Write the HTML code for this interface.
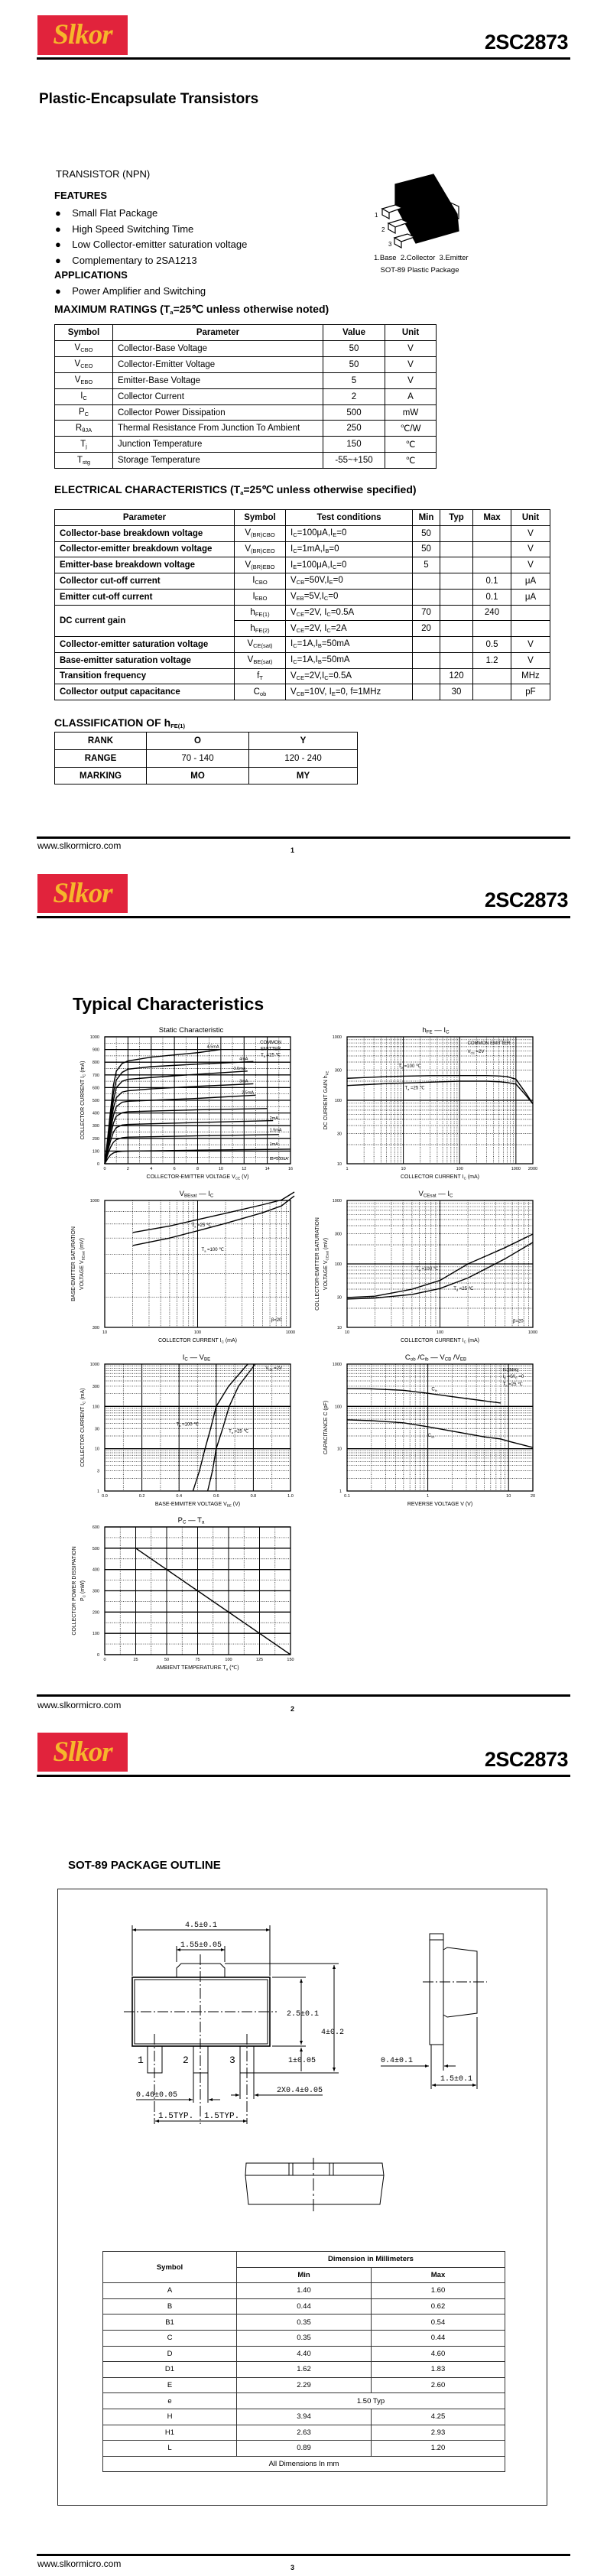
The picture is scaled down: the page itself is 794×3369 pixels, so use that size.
<!DOCTYPE html>
<html><head><meta charset="utf-8">
<style>
html,body{margin:0;padding:0;background:#fff;}
body{width:794px;height:3369px;position:relative;overflow:hidden;font-family:"Liberation Sans",Arial,sans-serif;color:#000;}
.a{position:absolute;white-space:nowrap;}
.logo{position:absolute;left:49px;width:118px;background:#e1233c;color:#f6b62b;font:italic bold 37px "Liberation Serif",serif;text-align:center;letter-spacing:-1px;}
.pn{position:absolute;right:51px;font:bold 27px "Liberation Sans",sans-serif;letter-spacing:-0.5px;}
.rule{position:absolute;left:48px;width:698px;height:3px;background:#000;}
.www{position:absolute;left:49px;font-size:12px;}
.pg{position:absolute;left:380px;font-size:9px;font-weight:bold;}
table{position:absolute;border-collapse:collapse;table-layout:fixed;}
td{border:1.3px solid #000;padding:0 0 0 6px;font-size:11.5px;overflow:hidden;white-space:nowrap;}
td.c{text-align:center;padding:0;}
th{border:1.3px solid #000;font-size:11.5px;padding:0;}
sub{font-size:7.5px;vertical-align:-2px;}
.dim td{border:1px solid #333;font-size:9.5px;text-align:center;padding:0;}
h3{margin:0;font-size:14px;position:absolute;white-space:nowrap;}
</style></head>
<body>
<!-- PAGE 1 -->
<div class="logo" style="top:20px;height:52px;line-height:52px;">Slkor</div>
<div class="pn" style="top:40px;">2SC2873</div>
<div class="rule" style="top:75px;"></div>
<div class="a" style="left:51px;top:119px;font-size:19px;font-weight:bold;">Plastic-Encapsulate Transistors</div>
<div class="a" style="left:73px;top:220px;font-size:13px;">TRANSISTOR (NPN)</div>
<div class="a" style="left:71px;top:248px;font-size:13px;font-weight:bold;">FEATURES</div>
<div class="a" style="left:72px;top:269px;font-size:13px;line-height:20.7px;">●&nbsp;&nbsp;&nbsp;&nbsp;Small Flat Package<br>●&nbsp;&nbsp;&nbsp;&nbsp;High Speed Switching Time<br>●&nbsp;&nbsp;&nbsp;&nbsp;Low Collector-emitter saturation voltage<br>●&nbsp;&nbsp;&nbsp;&nbsp;Complementary to 2SA1213</div>
<div class="a" style="left:71px;top:352px;font-size:13px;font-weight:bold;">APPLICATIONS</div>
<div class="a" style="left:72px;top:373px;font-size:13px;">●&nbsp;&nbsp;&nbsp;&nbsp;Power Amplifier and Switching</div>
<h3 style="left:71px;top:396px;">MAXIMUM RATINGS (T<sub>a</sub>=25℃ unless otherwise noted)</h3>
<div class="a" style="left:489px;top:330px;font-size:9.5px;width:120px;text-align:center;line-height:16px;">1.Base&nbsp; 2.Collector&nbsp; 3.Emitter<br>SOT-89 Plastic Package</div>

<table style="left:71px;top:424px;width:499px;">
<colgroup><col style="width:76px"><col style="width:275px"><col style="width:81px"><col style="width:67px"></colgroup>
<tr style="height:21px"><th>Symbol</th><th>Parameter</th><th>Value</th><th>Unit</th></tr>
<tr style="height:20.9px"><td class="c">V<sub>CBO</sub></td><td>Collector-Base Voltage</td><td class="c">50</td><td class="c">V</td></tr>
<tr style="height:20.9px"><td class="c">V<sub>CEO</sub></td><td>Collector-Emitter Voltage</td><td class="c">50</td><td class="c">V</td></tr>
<tr style="height:20.9px"><td class="c">V<sub>EBO</sub></td><td>Emitter-Base Voltage</td><td class="c">5</td><td class="c">V</td></tr>
<tr style="height:20.9px"><td class="c">I<sub>C</sub></td><td>Collector Current</td><td class="c">2</td><td class="c">A</td></tr>
<tr style="height:20.9px"><td class="c">P<sub>C</sub></td><td>Collector Power Dissipation</td><td class="c">500</td><td class="c">mW</td></tr>
<tr style="height:20.9px"><td class="c">R<sub>θJA</sub></td><td>Thermal Resistance From Junction To Ambient</td><td class="c">250</td><td class="c">℃/W</td></tr>
<tr style="height:20.9px"><td class="c">T<sub>j</sub></td><td>Junction Temperature</td><td class="c">150</td><td class="c">℃</td></tr>
<tr style="height:20.9px"><td class="c">T<sub>stg</sub></td><td>Storage Temperature</td><td class="c">-55~+150</td><td class="c">℃</td></tr>
</table>

<h3 style="left:71px;top:632px;">ELECTRICAL CHARACTERISTICS (T<sub>a</sub>=25℃ unless otherwise specified)</h3>
<table style="left:71px;top:666px;width:648px;">
<colgroup><col style="width:235px"><col style="width:67px"><col style="width:166px"><col style="width:36px"><col style="width:43px"><col style="width:50px"><col style="width:51px"></colgroup>
<tr style="height:20.75px"><th>Parameter</th><th>Symbol</th><th>Test conditions</th><th>Min</th><th>Typ</th><th>Max</th><th>Unit</th></tr>
<tr style="height:20.75px"><td><b>Collector-base breakdown voltage</b></td><td class="c">V<sub>(BR)CBO</sub></td><td>I<sub>C</sub>=100μA,I<sub>E</sub>=0</td><td class="c">50</td><td></td><td></td><td class="c">V</td></tr>
<tr style="height:20.75px"><td><b>Collector-emitter breakdown voltage</b></td><td class="c">V<sub>(BR)CEO</sub></td><td>I<sub>C</sub>=1mA,I<sub>B</sub>=0</td><td class="c">50</td><td></td><td></td><td class="c">V</td></tr>
<tr style="height:20.75px"><td><b>Emitter-base breakdown voltage</b></td><td class="c">V<sub>(BR)EBO</sub></td><td>I<sub>E</sub>=100μA,I<sub>C</sub>=0</td><td class="c">5</td><td></td><td></td><td class="c">V</td></tr>
<tr style="height:20.75px"><td><b>Collector cut-off current</b></td><td class="c">I<sub>CBO</sub></td><td>V<sub>CB</sub>=50V,I<sub>E</sub>=0</td><td></td><td></td><td class="c">0.1</td><td class="c">μA</td></tr>
<tr style="height:20.75px"><td><b>Emitter cut-off current</b></td><td class="c">I<sub>EBO</sub></td><td>V<sub>EB</sub>=5V,I<sub>C</sub>=0</td><td></td><td></td><td class="c">0.1</td><td class="c">μA</td></tr>
<tr style="height:20.75px"><td rowspan="2"><b>DC current gain</b></td><td class="c">h<sub>FE(1)</sub></td><td>V<sub>CE</sub>=2V, I<sub>C</sub>=0.5A</td><td class="c">70</td><td></td><td class="c">240</td><td></td></tr>
<tr style="height:20.75px"><td class="c">h<sub>FE(2)</sub></td><td>V<sub>CE</sub>=2V, I<sub>C</sub>=2A</td><td class="c">20</td><td></td><td></td><td></td></tr>
<tr style="height:20.75px"><td><b>Collector-emitter saturation voltage</b></td><td class="c">V<sub>CE(sat)</sub></td><td>I<sub>C</sub>=1A,I<sub>B</sub>=50mA</td><td></td><td></td><td class="c">0.5</td><td class="c">V</td></tr>
<tr style="height:20.75px"><td><b>Base-emitter saturation voltage</b></td><td class="c">V<sub>BE(sat)</sub></td><td>I<sub>C</sub>=1A,I<sub>B</sub>=50mA</td><td></td><td></td><td class="c">1.2</td><td class="c">V</td></tr>
<tr style="height:20.75px"><td><b>Transition frequency</b></td><td class="c">f<sub>T</sub></td><td>V<sub>CE</sub>=2V,I<sub>C</sub>=0.5A</td><td></td><td class="c">120</td><td></td><td class="c">MHz</td></tr>
<tr style="height:20.75px"><td><b>Collector output capacitance</b></td><td class="c">C<sub>ob</sub></td><td>V<sub>CB</sub>=10V, I<sub>E</sub>=0, f=1MHz</td><td></td><td class="c">30</td><td></td><td class="c">pF</td></tr>
</table>

<h3 style="left:71px;top:937px;">CLASSIFICATION OF h<sub>FE(1)</sub></h3>
<table style="left:71px;top:957px;width:396px;">
<colgroup><col style="width:120px"><col style="width:134px"><col style="width:142px"></colgroup>
<tr style="height:23px"><td class="c"><b>RANK</b></td><td class="c"><b>O</b></td><td class="c"><b>Y</b></td></tr>
<tr style="height:23px"><td class="c"><b>RANGE</b></td><td class="c">70 - 140</td><td class="c">120 - 240</td></tr>
<tr style="height:22px"><td class="c"><b>MARKING</b></td><td class="c"><b>MO</b></td><td class="c"><b>MY</b></td></tr>
</table>
<div class="rule" style="top:1094px;"></div>
<div class="www" style="top:1099px;">www.slkormicro.com</div>
<div class="pg" style="top:1107px;">1</div>

<!-- PAGE 2 -->
<div class="logo" style="top:1143px;height:51px;line-height:51px;">Slkor</div>
<div class="pn" style="top:1162px;">2SC2873</div>
<div class="rule" style="top:1198px;"></div>
<div class="a" style="left:95px;top:1300px;font-size:23px;font-weight:bold;">Typical Characteristics</div>
<div class="rule" style="top:2216px;"></div>
<div class="www" style="top:2223px;">www.slkormicro.com</div>
<div class="pg" style="top:2230px;">2</div>

<!-- PAGE 3 -->
<div class="logo" style="top:2266px;height:51px;line-height:51px;">Slkor</div>
<div class="pn" style="top:2286px;">2SC2873</div>
<div class="rule" style="top:2321px;"></div>
<h3 style="left:89px;top:2431px;font-size:15px;">SOT-89 PACKAGE OUTLINE</h3>
<div style="position:absolute;left:75px;top:2470px;width:639px;height:805px;border:1px solid #222;"></div>
<table class="dim" style="left:134px;top:2944px;width:526px;">
<colgroup><col style="width:175px"><col style="width:176px"><col style="width:175px"></colgroup>
<tr style="height:20.6px"><td rowspan="2"><b>Symbol</b></td><td colspan="2"><b>Dimension in Millimeters</b></td></tr>
<tr style="height:20.6px"><td><b>Min</b></td><td><b>Max</b></td></tr>
<tr style="height:20.6px"><td>A</td><td>1.40</td><td>1.60</td></tr>
<tr style="height:20.6px"><td>B</td><td>0.44</td><td>0.62</td></tr>
<tr style="height:20.6px"><td>B1</td><td>0.35</td><td>0.54</td></tr>
<tr style="height:20.6px"><td>C</td><td>0.35</td><td>0.44</td></tr>
<tr style="height:20.6px"><td>D</td><td>4.40</td><td>4.60</td></tr>
<tr style="height:20.6px"><td>D1</td><td>1.62</td><td>1.83</td></tr>
<tr style="height:20.6px"><td>E</td><td>2.29</td><td>2.60</td></tr>
<tr style="height:20.6px"><td>e</td><td colspan="2">1.50 Typ</td></tr>
<tr style="height:20.6px"><td>H</td><td>3.94</td><td>4.25</td></tr>
<tr style="height:20.6px"><td>H1</td><td>2.63</td><td>2.93</td></tr>
<tr style="height:20.6px"><td>L</td><td>0.89</td><td>1.20</td></tr>
<tr style="height:20.6px"><td colspan="3">All Dimensions In mm</td></tr>
</table>
<div class="rule" style="top:3340px;"></div>
<div class="www" style="top:3346px;">www.slkormicro.com</div>
<div class="pg" style="top:3353px;">3</div>

<svg id="ov" width="794" height="3369" style="position:absolute;left:0;top:0;" font-family="Liberation Sans, sans-serif">
 <!-- page 1 package icon -->
 <g stroke="#000" stroke-width="1.2">
  <polygon points="587,264 600,270 600,286 587,282" fill="#fff"/>
  <polygon points="517,241 567,228 598,280 600,302 544,318 517,268" fill="#000"/>
  <polygon points="500,273 517,268 526,272 509,278" fill="#fff"/>
  <polygon points="500,273 509,278 509,286 500,281" fill="#fff"/>
  <polygon points="508,292 525,287 534,291 517,297" fill="#fff"/>
  <polygon points="508,292 517,297 517,305 508,300" fill="#fff"/>
  <polygon points="516,311 533,306 542,310 525,316" fill="#fff"/>
  <polygon points="516,311 525,316 525,324 516,319" fill="#fff"/>
  <text x="490" y="284" font-size="8" stroke="none">1</text>
  <text x="499" y="303" font-size="8" stroke="none">2</text>
  <text x="508" y="322" font-size="8" stroke="none">3</text>
 </g>
 <!-- page 3 outline drawing -->
 <defs><marker id="ar" markerWidth="6" markerHeight="6" refX="5" refY="3" orient="auto-start-reverse"><path d="M0,1 L5,3 L0,5 z" fill="#000"/></marker></defs>
 <g fill="none" stroke="#000" stroke-width="1">
  <rect x="173" y="2586" width="180" height="90" stroke-width="1.6"/>
  <rect x="176" y="2589" width="174" height="84"/>
  <polyline points="231,2586 231,2574 237,2568 288,2568 294,2574 294,2586"/>
  <rect x="193" y="2676" width="19" height="35"/>
  <rect x="253" y="2676" width="19" height="35"/>
  <rect x="314" y="2676" width="18" height="35"/>
  <line x1="162" y1="2631" x2="362" y2="2631" stroke-dasharray="14,3,2,3"/>
  <line x1="262" y1="2556" x2="262" y2="2778" stroke-dasharray="14,3,2,3"/>
  <line x1="202" y1="2660" x2="202" y2="2778" stroke-dasharray="14,3,2,3"/>
  <line x1="323" y1="2660" x2="323" y2="2778" stroke-dasharray="14,3,2,3"/>
  <line x1="173" y1="2518" x2="173" y2="2584"/><line x1="353" y1="2518" x2="353" y2="2584"/>
  <line x1="173" y1="2524" x2="353" y2="2524" marker-start="url(#ar)" marker-end="url(#ar)"/>
  <line x1="231" y1="2545" x2="231" y2="2566"/><line x1="294" y1="2545" x2="294" y2="2566"/>
  <line x1="231" y1="2550" x2="294" y2="2550" marker-start="url(#ar)" marker-end="url(#ar)"/>
  <line x1="356" y1="2586" x2="400" y2="2586"/><line x1="356" y1="2676" x2="400" y2="2676"/>
  <line x1="294" y1="2568" x2="443" y2="2568"/><line x1="332" y1="2711" x2="443" y2="2711"/>
  <line x1="394" y1="2588" x2="394" y2="2674" marker-start="url(#ar)" marker-end="url(#ar)"/>
  <line x1="394" y1="2678" x2="394" y2="2709" marker-start="url(#ar)"/>
  <line x1="437" y1="2570" x2="437" y2="2709" marker-start="url(#ar)" marker-end="url(#ar)"/>
  <line x1="253" y1="2711" x2="253" y2="2750"/><line x1="272" y1="2711" x2="272" y2="2750"/>
  <line x1="314" y1="2711" x2="314" y2="2745"/><line x1="332" y1="2711" x2="332" y2="2745"/>
  <line x1="178" y1="2746" x2="252" y2="2746" marker-end="url(#ar)"/>
  <line x1="288" y1="2746" x2="273" y2="2746" marker-end="url(#ar)"/>
  <line x1="302" y1="2740" x2="313" y2="2740" marker-end="url(#ar)"/>
  <line x1="422" y1="2740" x2="333" y2="2740" marker-end="url(#ar)"/>
  <line x1="203" y1="2774" x2="323" y2="2774" marker-start="url(#ar)" marker-end="url(#ar)"/>
 </g>
 <g font-family="Liberation Mono, monospace" font-size="10">
  <text x="263" y="2520" text-anchor="middle">4.5±0.1</text>
  <text x="263" y="2546" text-anchor="middle">1.55±0.05</text>
  <text x="375" y="2636">2.5±0.1</text>
  <text x="420" y="2660">4±0.2</text>
  <text x="377" y="2697">1±0.05</text>
  <text x="178" y="2742">0.46±0.05</text>
  <text x="362" y="2736">2X0.4±0.05</text>
  <text x="207" y="2770" font-size="11">1.5TYP.</text>
  <text x="267" y="2770" font-size="11">1.5TYP.</text>
  <text x="498" y="2697">0.4±0.1</text>
  <text x="576" y="2721">1.5±0.1</text>
  <text x="180" y="2698" font-size="13">1</text>
  <text x="239" y="2698" font-size="13">2</text>
  <text x="300" y="2698" font-size="13">3</text>
 </g>
 <g fill="none" stroke="#000" stroke-width="1">
  <rect x="562" y="2529" width="18" height="145"/>
  <line x1="562" y1="2537" x2="580" y2="2537"/>
  <polyline points="580,2550 585,2547 624,2552 624,2633 585,2638 580,2635"/>
  <line x1="553" y1="2592" x2="637" y2="2592" stroke-dasharray="14,3,2,3"/>
  <line x1="564" y1="2674" x2="564" y2="2732"/><line x1="580" y1="2674" x2="580" y2="2708"/>
  <line x1="624" y1="2638" x2="624" y2="2732"/>
  <line x1="498" y1="2702" x2="561" y2="2702" marker-end="url(#ar)"/>
  <line x1="596" y1="2702" x2="581" y2="2702" marker-end="url(#ar)"/>
  <line x1="565" y1="2727" x2="623" y2="2727" marker-start="url(#ar)" marker-end="url(#ar)"/>
 </g>
 <g fill="none" stroke="#000" stroke-width="1">
  <polygon points="322,2829 500,2829 502,2845 497,2883 325,2883 321,2845"/>
  <line x1="321" y1="2845" x2="502" y2="2845"/>
  <line x1="378" y1="2829" x2="378" y2="2845"/><line x1="383" y1="2829" x2="383" y2="2845"/>
  <line x1="431" y1="2829" x2="431" y2="2845"/><line x1="436" y1="2829" x2="436" y2="2845"/>
  <line x1="410" y1="2822" x2="410" y2="2893" stroke-dasharray="16,4,3,4"/>
 </g>
</svg>

<script>
// ---------- chart data ----------
// Static characteristic
const c1Vce = [0,0.25,0.5,0.75,1,1.5,2,4,8];
const c1Ib = ['4.5mA','4mA','3.5mA','3mA','2.5mA','2mA','1.5mA','1mA','IB=500uA'];
const c1End = [10,12.8,12.3,12.8,13,14,14.5,15,16];
const c1Ic45 = [0,200,420,620,730,790,810,840,875,900];
const c1Ic40 = [0,180,380,560,660,720,745,765,785,805];
const c1Ic35 = [0,170,340,500,600,650,665,680,705,730];
const c1Ic30 = [0,150,300,440,520,565,575,590,610,630];
const c1Ic25 = [0,130,260,380,450,485,492,500,515,540];
const c1Ic20 = [0,115,220,320,375,402,410,415,425,435];
const c1Ic15 = [0,95,180,250,285,305,310,315,325,340];
const c1Ic10 = [0,70,130,170,190,205,210,213,220,230];
const c1Ic05 = [0,40,70,85,93,98,100,102,107,115];
const c1XTicks = [0,2,4,6,8,10,12,14,16];
const c1YTicks = [0,100,200,300,400,500,600,700,800,900,1000];
// hFE - Ic
const c2Ic = [1,2,5,10,30,100,300,500,700,1000,1500,2000];
const c2H100 = [222,228,236,240,244,245,245,242,236,215,130,88];
const c2H25 = [171,176,183,187,193,200,200,196,190,180,120,88];
const c2XTicks = [1,10,100,1000,2000];
const c2YTicks = [10,30,100,300,1000];
// VBEsat - Ic
const c3Ic = [20,50,100,200,500,800,1100];
const c3V25 = [738,785,834,885,960,1005,1083];
const c3V100 = [652,700,750,805,890,950,1044];
const c3XTicks = [10,100,1000];
const c3YTicks = [300,1000];
// VCEsat - Ic
const c4Ic = [10,20,50,100,200,500,1000];
const c4V100 = [29.5,31,40,55,100,180,295];
const c4V25 = [28,29,33,41,60,120,218];
const c4XTicks = [10,100,1000];
const c4YTicks = [10,30,100,300,1000];
// Ic - VBE
const c5Ic = [1,3,10,30,100,300,1000];
const c5V100 = [0.475,0.51,0.54,0.57,0.60,0.667,0.77];
const c5V25 = [0.554,0.58,0.60,0.635,0.67,0.72,0.81];
const c5XTicks = [0,0.2,0.4,0.6,0.8,1.0];
const c5XLabels = ['0.0','0.2','0.4','0.6','0.8','1.0'];
const c5YTicks = [1,3,10,30,100,300,1000];
// Capacitance
const c6CibV = [0.1,0.2,0.5,1,2,5,8];
const c6Cib = [263,260,240,204,170,135,120];
const c6CobV = [0.1,0.2,0.5,1,2,5,8,10,20];
const c6Cob = [48,46,41,33,26,19,17,15,10.7];
const c6XTicks = [0.1,1,10,20];
const c6YTicks = [1,10,100,1000];
// Pc - Ta
const c7Ta = [0,25,150];
const c7Pc = [500,500,0];
const c7XTicks = [0,25,50,75,100,125,150];
const c7YTicks = [0,100,200,300,400,500,600];

// ---------- helpers ----------
const NS = 'http://www.w3.org/2000/svg';
const ov = document.getElementById('ov');
function mk(tag, parent){ const e = document.createElementNS(NS, tag); (parent||ov).appendChild(e); return e; }
function linS(d0,d1,r0,r1){ return v => r0 + (v-d0)/(d1-d0)*(r1-r0); }
function logS(d0,d1,r0,r1){ const a=Math.log10(d0), b=Math.log10(d1); return v => r0 + (Math.log10(v)-a)/(b-a)*(r1-r0); }
function logMinor(d0,d1){ const out=[]; for(let e=Math.floor(Math.log10(d0)); e<=Math.ceil(Math.log10(d1)); e++){ for(let k=1;k<10;k++){ const v=k*Math.pow(10,e); if(v>d0*1.0001 && v<d1*0.9999) out.push(v);} } return out; }
function linMinor(d0,d1,step){ const out=[]; for(let v=d0+step; v<d1-1e-9; v+=step) out.push(v); return out; }
function ln(g,x1,y1,x2,y2,w,dash,name){
  const l = mk('line', g);
  l.setAttribute('x1',x1); l.setAttribute('y1',y1); l.setAttribute('x2',x2); l.setAttribute('y2',y2);
  l.setAttribute('stroke','#000'); l.setAttribute('stroke-width',w);
  if(dash) l.setAttribute('stroke-dasharray',dash);
  
  
  return l;
}
function tx(g,x,y,s,size,anchor,name,rot){
  const t = mk('text', g);
  t.setAttribute('x',x); t.setAttribute('y',y); t.setAttribute('font-size',size);
  t.setAttribute('text-anchor',anchor||'start');
  if(rot) t.setAttribute('transform','rotate(-90 '+x+' '+y+')');
  t.innerHTML = s;
  
  
  return t;
}
function chart(c){
  const g = mk('g');
  
  
  const sx = c.xlog ? logS(c.xd[0],c.xd[1],c.x0,c.x1) : linS(c.xd[0],c.xd[1],c.x0,c.x1);
  const sy = c.ylog ? logS(c.yd[0],c.yd[1],c.y1,c.y0) : linS(c.yd[0],c.yd[1],c.y1,c.y0);
  const xm = c.xlog ? logMinor(c.xd[0],c.xd[1]) : linMinor(c.xd[0],c.xd[1],c.xstep);
  const ym = c.ylog ? logMinor(c.yd[0],c.yd[1]) : linMinor(c.yd[0],c.yd[1],c.ystep);
  xm.forEach(v => ln(g,sx(v),c.y0,sx(v),c.y1,0.7,'1,1.4','minor-grid-x'));
  ym.forEach(v => ln(g,c.x0,sy(v),c.x1,sy(v),0.7,'1,1.4','minor-grid-y'));
  c.xMajor.forEach(v => ln(g,sx(v),c.y0,sx(v),c.y1,1,null,'major-grid-x'));
  c.yMajor.forEach(v => ln(g,c.x0,sy(v),c.x1,sy(v),1.3,null,'major-grid-y'));
  const r = mk('rect', g);
  r.setAttribute('x',c.x0); r.setAttribute('y',c.y0); r.setAttribute('width',c.x1-c.x0); r.setAttribute('height',c.y1-c.y0);
  r.setAttribute('fill','none'); r.setAttribute('stroke','#000'); r.setAttribute('stroke-width','1.3');
  
  
  c.xTicks.forEach((v,i) => tx(g,sx(v),c.y1+8,c.xLabels?c.xLabels[i]:String(v),5.5,'middle','x-tick-label'));
  c.yTicks.forEach((v,i) => tx(g,c.x0-7,sy(v)+2,String(v),5.5,'end','y-tick-label'));
  tx(g,(c.x0+c.x1)/2,c.y1+19,c.xTitle,7,'middle','x-axis-title');
  c.yTitle.forEach((s,i) => tx(g,c.yTitleX[i],(c.y0+c.y1)/2,s,7,'middle','y-axis-title',true));
  tx(g,c.tx,c.y0-6,c.title,9.5,'middle','chart-title');
  return {g,sx,sy};
}
function series(ch,xs,ys,name){
  const p = mk('path', ch.g);
  p.setAttribute('d', xs.map((x,i)=>(i?'L':'M')+ch.sx(x).toFixed(2)+','+ch.sy(ys[i]).toFixed(2)).join(' '));
  p.setAttribute('fill','none'); p.setAttribute('stroke','#000'); p.setAttribute('stroke-width','1.4');
  
  
  return p;
}
const sub = s => '<tspan font-size="0.65em" dy="1.5">'+s+'</tspan><tspan dy="-1.5"> </tspan>';

// ---------- chart 1 ----------
const ch1 = chart({name:'static-characteristic-chart',x0:137,x1:380,y0:1356,y1:1522,xd:[0,16],yd:[0,1000],xstep:1,ystep:50,
  xMajor:c1XTicks,yMajor:c1YTicks,xTicks:c1XTicks,yTicks:c1YTicks,
  xTitle:'COLLECTOR-EMITTER VOLTAGE   V'+sub('CE')+'  (V)',yTitle:['COLLECTOR CURRENT   I'+sub('C')+'  (mA)'],yTitleX:[110],
  title:'Static Characteristic',tx:250});
[c1Ic45,c1Ic40,c1Ic35,c1Ic30,c1Ic25,c1Ic20,c1Ic15,c1Ic10,c1Ic05].forEach((arr,k) => {
  const xs = c1Vce.concat([c1End[k]]);
  series(ch1, xs, arr, 'ib-curve-'+c1Ib[k]);
  const low = k>=5;
  tx(ch1.g, ch1.sx(low ? 14.2 : c1End[k]-1.2), ch1.sy(arr[arr.length-1]) + (low ? 14 : -2), c1Ib[k], 5.5, 'start', 'ib-label');
});
tx(ch1.g,ch1.sx(14.3),ch1.sy(945),'COMMON',6,'middle','common-emitter-note');
tx(ch1.g,ch1.sx(14.3),ch1.sy(895),'EMITTER',6,'middle','common-emitter-note');
tx(ch1.g,ch1.sx(14.3),ch1.sy(845),'T'+sub('a')+'=25 ℃',6,'middle','temperature-note');

// ---------- chart 2 ----------
const ch2 = chart({name:'hfe-vs-ic-chart',x0:454,x1:697,y0:1356,y1:1522,xlog:true,ylog:true,xd:[1,2000],yd:[10,1000],
  xMajor:[10,100,1000],yMajor:[100],xTicks:c2XTicks,yTicks:c2YTicks,
  xTitle:'COLLECTOR CURRENT   I'+sub('C')+'  (mA)',yTitle:['DC CURRENT GAIN   h'+sub('FE')],yTitleX:[428],
  title:'h'+sub('FE')+'  —  I'+sub('C'),tx:570});
series(ch2,c2Ic,c2H100,'hfe-ta100-curve');
series(ch2,c2Ic,c2H25,'hfe-ta25-curve');
tx(ch2.g,ch2.sx(138),ch2.sy(760),'COMMON EMITTER',6,'start','common-emitter-note');
tx(ch2.g,ch2.sx(138),ch2.sy(560),'V'+sub('CE')+'=2V',6,'start','vce-note');
tx(ch2.g,ch2.sx(8.2),ch2.sy(330),'T'+sub('a')+'=100 ℃',6,'start','ta100-label');
tx(ch2.g,ch2.sx(10.6),ch2.sy(150),'T'+sub('a')+'=25 ℃',6,'start','ta25-label');

// ---------- chart 3 ----------
const ch3 = chart({name:'vbesat-vs-ic-chart',x0:137,x1:380,y0:1570,y1:1736,xlog:true,ylog:true,xd:[10,1000],yd:[300,1000],
  xMajor:[100],yMajor:[],xTicks:c3XTicks,yTicks:c3YTicks,
  xTitle:'COLLECTOR CURRENT   I'+sub('C')+'  (mA)',yTitle:['BASE-EMITTER SATURATION','VOLTAGE   V'+sub('BEsat')+'  (mV)'],yTitleX:[98,109],
  title:'V'+sub('BEsat')+'  —  I'+sub('C'),tx:257});
series(ch3,c3Ic,c3V25,'vbesat-ta25-curve');
series(ch3,c3Ic,c3V100,'vbesat-ta100-curve');
tx(ch3.g,ch3.sx(86),ch3.sy(782),'T'+sub('a')+'=25 ℃',6,'start','ta25-label');
tx(ch3.g,ch3.sx(110),ch3.sy(620),'T'+sub('a')+'=100 ℃',6,'start','ta100-label');
tx(ch3.g,ch3.sx(620),ch3.sy(318),'β=20',6,'start','beta-note');

// ---------- chart 4 ----------
const ch4 = chart({name:'vcesat-vs-ic-chart',x0:454,x1:697,y0:1570,y1:1736,xlog:true,ylog:true,xd:[10,1000],yd:[10,1000],
  xMajor:[100],yMajor:[100],xTicks:c4XTicks,yTicks:c4YTicks,
  xTitle:'COLLECTOR CURRENT   I'+sub('C')+'  (mA)',yTitle:['COLLECTOR-EMITTER SATURATION','VOLTAGE   V'+sub('CEsat')+'  (mV)'],yTitleX:[417,428],
  title:'V'+sub('CEsat')+'  —  I'+sub('C'),tx:570});
series(ch4,c4Ic,c4V100,'vcesat-ta100-curve');
series(ch4,c4Ic,c4V25,'vcesat-ta25-curve');
tx(ch4.g,ch4.sx(55),ch4.sy(80),'T'+sub('a')+'=100 ℃',6,'start','ta100-label');
tx(ch4.g,ch4.sx(140),ch4.sy(39),'T'+sub('a')+'=25 ℃',6,'start','ta25-label');
tx(ch4.g,ch4.sx(610),ch4.sy(12),'β=20',6,'start','beta-note');

// ---------- chart 5 ----------
const ch5 = chart({name:'ic-vs-vbe-chart',x0:137,x1:380,y0:1784,y1:1950,ylog:true,xd:[0,1],yd:[1,1000],xstep:0.1,
  xMajor:c5XTicks,yMajor:[10,100],xTicks:c5XTicks,xLabels:c5XLabels,yTicks:c5YTicks,
  xTitle:'BASE-EMMITER VOLTAGE   V'+sub('BE')+'  (V)',yTitle:['COLLECTOR CURRENT   I'+sub('C')+'  (mA)'],yTitleX:[110],
  title:'I'+sub('C')+'  —  V'+sub('BE'),tx:257});
series(ch5,c5V100,c5Ic,'ic-ta100-curve');
series(ch5,c5V25,c5Ic,'ic-ta25-curve');
tx(ch5.g,ch5.sx(0.865),ch5.sy(740),'V'+sub('CE')+'=2V',6,'start','vce-note');
tx(ch5.g,ch5.sx(0.385),ch5.sy(35),'T'+sub('a')+'=100 ℃',6,'start','ta100-label');
tx(ch5.g,ch5.sx(0.667),ch5.sy(24),'T'+sub('a')+'=25 ℃',6,'start','ta25-label');

// ---------- chart 6 ----------
const ch6 = chart({name:'capacitance-vs-voltage-chart',x0:454,x1:697,y0:1784,y1:1950,xlog:true,ylog:true,xd:[0.1,20],yd:[1,1000],
  xMajor:[1,10],yMajor:[10,100],xTicks:c6XTicks,yTicks:c6YTicks,
  xTitle:'REVERSE VOLTAGE   V   (V)',yTitle:['CAPACITANCE     C     (pF)'],yTitleX:[428],
  title:'C'+sub('ob')+'/C'+sub('ib')+'  —  V'+sub('CB')+'/V'+sub('EB'),tx:570});
series(ch6,c6CibV,c6Cib,'cib-curve');
series(ch6,c6CobV,c6Cob,'cob-curve');
tx(ch6.g,ch6.sx(8.5),ch6.sy(680),'f=1MHz',6,'start','freq-note');
tx(ch6.g,ch6.sx(8.5),ch6.sy(470),'I'+sub('E')+'=0/I'+sub('C')+'=0',6,'start','bias-note');
tx(ch6.g,ch6.sx(8.5),ch6.sy(310),'T'+sub('a')+'=25 ℃',6,'start','temperature-note');
tx(ch6.g,ch6.sx(1.11),ch6.sy(240),'C'+sub('ib'),6,'start','cib-label');
tx(ch6.g,ch6.sx(1.0),ch6.sy(19),'C'+sub('ob'),6,'start','cob-label');

// ---------- chart 7 ----------
const ch7 = chart({name:'pc-vs-ta-chart',x0:137,x1:380,y0:1997,y1:2164,xd:[0,150],yd:[0,600],xstep:12.5,ystep:50,
  xMajor:c7XTicks,yMajor:c7YTicks,xTicks:c7XTicks,yTicks:c7YTicks,
  xTitle:'AMBIENT TEMPERATURE   T'+sub('a')+'  (℃)',yTitle:['COLLECTOR POWER DISSIPATION','P'+sub('C')+'   (mW)'],yTitleX:[99,110],
  title:'P'+sub('C')+'  —  T'+sub('a'),tx:250});
series(ch7,c7Ta,c7Pc,'pc-derating-curve');
</script>
</body></html>
